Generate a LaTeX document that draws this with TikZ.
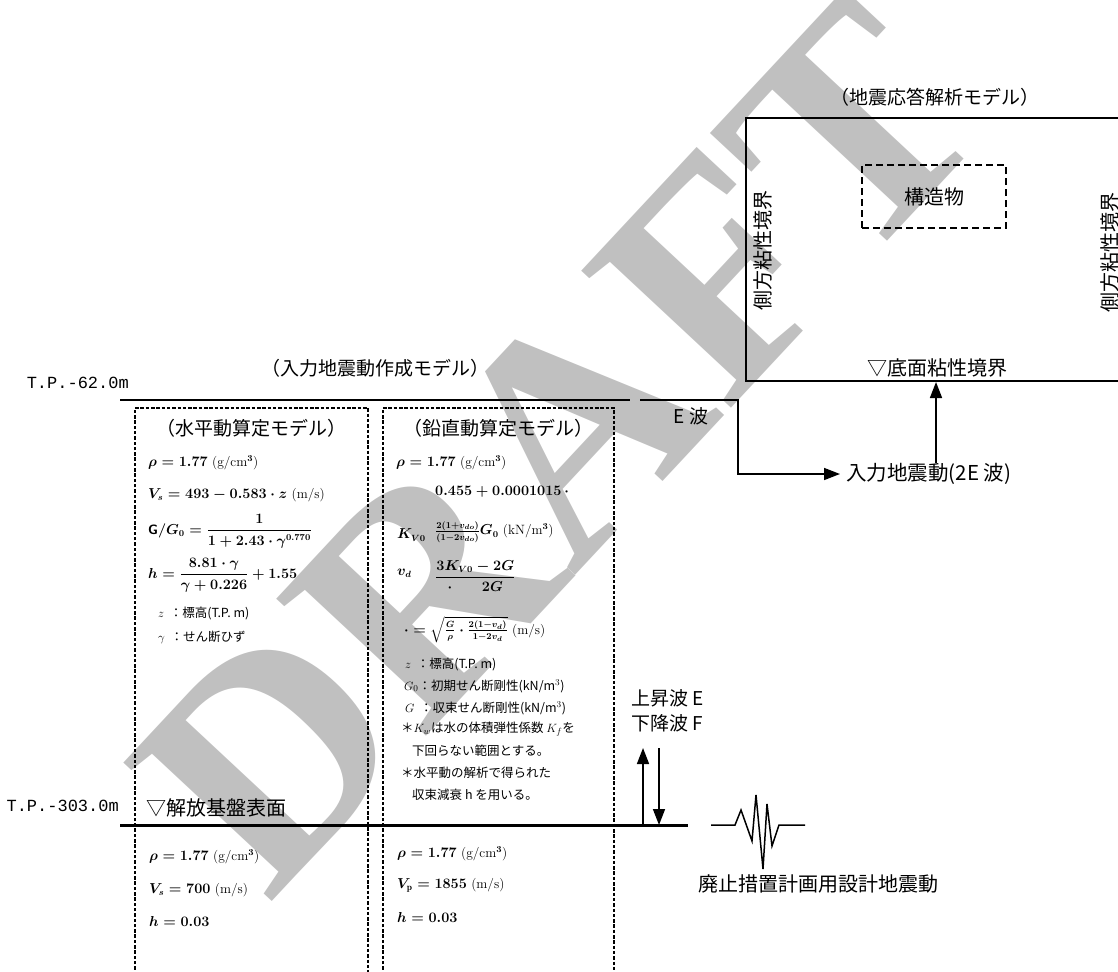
\documentclass[tikz,border=0pt]{standalone}
\usepackage{amsmath,bm}
\usepackage{fontspec}
\newfontfamily\jp{Noto Sans CJK JP}
\newfontfamily\wmfont{Liberation Serif}
\newfontfamily\tpfont{Liberation Mono}
\usetikzlibrary{arrows.meta}
\definecolor{wmgray}{RGB}{192,192,192}
\tikzset{
  jt/.style={font=\jp\fontsize{19}{22}\selectfont, inner sep=0pt},
  jbig/.style={font=\jp\fontsize{20}{24}\selectfont, inner sep=0pt},
  tp/.style={font=\tpfont\fontsize{17}{20}\selectfont, inner sep=0pt, anchor=east},
  jsmall/.style={font=\jp\fontsize{12.5}{14}\selectfont, inner sep=0pt, anchor=west},
  fm/.style={font=\fontsize{13.5}{16}\selectfont\boldmath, inner sep=0pt, anchor=west},
  thickline/.style={line width=2.4pt},
  dbox/.style={line width=1.2pt, dash pattern=on 3.5pt off 1.8pt},
  arr/.style={-{Triangle[length=16pt,width=12pt]}, line width=1.6pt},
  wave/.style={line width=1.5pt, line join=miter},
}
\begin{document}
\begin{tikzpicture}[x=1pt,y=-1pt]
\useasboundingbox (0,0) rectangle (1118,971);
% watermark
\node[rotate=47, text=wmgray, font=\wmfont\bfseries\fontsize{310}{310}\selectfont, inner sep=0pt] (wm) at (558,445) {DRAFT};

% response analysis model
\node[draw, line width=2pt, minimum width=380pt, minimum height=263pt, inner sep=0pt] (resp) at (936,249.5) {};
\node[jt] (resptitle) at (935,97) {（地震応答解析モデル）};
\node[draw, line width=1.8pt, dash pattern=on 7pt off 4pt, minimum width=144pt, minimum height=63pt, inner sep=0pt] (struct) at (934,196.5) {};
\node[jbig] (structlbl) at (struct.center) {構造物};
\node[jbig, rotate=90] (sideL) at (763,250) {側方粘性境界};
\node[jbig, rotate=90] (sideR) at (1110,252) {側方粘性境界};
\node[jbig] (bottomb) at (937,368) {▽底面粘性境界};

% input motion model
\node[jt] (inmodel) at (375,368) {（入力地震動作成モデル）};
\node[tp] (tp62) at (129,383) {T.P.-62.0m};
\coordinate (l62a) at (120,400);
\coordinate (l62b) at (630,400);
\draw[thickline] (l62a) -- (l62b);
\coordinate (ewA) at (640,400);
\node[jt] (ewave) at (691,416) {E 波};
\node[font=\jp\fontsize{20.5}{24}\selectfont, anchor=west, inner sep=0pt] (in2e) at (846,474) {入力地震動(2E 波)};
\coordinate (in2eTip) at (840,474);
\draw[arr] (ewA) -- (738,400) |- (in2eTip);
\draw[arr] (resp.south |- in2e.north) -- (resp.south);

% columns
\coordinate (c1tl) at (135,408);
\coordinate (c1tr) at (368,408);
\coordinate (c2tl) at (383,408);
\coordinate (c2tr) at (614,408);
\draw[dbox] (135,975) -- (c1tl) -- (c1tr) -- (368,975);
\draw[dbox] (383,975) -- (c2tl) -- (c2tr) -- (614,975);

\node[jt] (hmodel) at (251,428) {（水平動算定モデル）};
\node[jt] (vmodel) at (498,428) {（鉛直動算定モデル）};

% horizontal model formulas
\node[fm] (h1) at (148,463) {$\rho = 1.77$\ \mdseries(g/cm$^{3}$)};
\node[fm] (h2) at (148,495) {$V_s = 493 - 0.583\cdot z$\ \mdseries(m/s)};
\node[fm] (h3) at (148,531) {{\sffamily\bfseries G}$/G_0 = \dfrac{1}{1+2.43\cdot\gamma^{0.770}}$};
\node[fm] (h4) at (148,575) {$h = \dfrac{8.81\cdot\gamma}{\gamma+0.226} + 1.55$};
\node[jsmall] (h5) at (158,613) {$z$\ \ ：標高(T.P.\ m)};
\node[jsmall] (h6) at (158,637) {$\gamma$\ \ ：せん断ひず};

% vertical model formulas
\node[fm] (v1) at (396,463) {$\rho = 1.77$\ \mdseries(g/cm$^{3}$)};
\node[fm] (v2) at (435,492) {$0.455 + 0.0001015\,\cdot$};
\node[fm] (v3) at (397,535) {$K_{V0}$};
\node[fm] (v4) at (435,532) {$\tfrac{2(1+v_{do})}{(1-2v_{do})}G_0$\ \mdseries(kN/m$^{3}$)};
\node[fm] (v5) at (397,573) {$v_d$};
\node[fm] (v6) at (435,576) {$\dfrac{3K_{V0}-2G}{\cdot\hspace{2.2em}2G}$};
\node[fm] (v7) at (404,630) {$\cdot = \sqrt{\tfrac{G}{\rho}\cdot\tfrac{2(1-v_d)}{1-2v_d}}$\ \mdseries(m/s)};
\node[jsmall] (v8) at (405,664) {$z$\ \ ：標高(T.P.\ m)};
\node[jsmall] (v9) at (404,686) {$G_0$：初期せん断剛性(kN/m$^{3}$)};
\node[jsmall] (v10) at (405,708) {$G$\ \ ：収束せん断剛性(kN/m$^{3}$)};
\node[jsmall] (v11) at (401,729) {＊$K_w$は水の体積弾性係数 $K_f$を};
\node[jsmall] (v12) at (412,751) {下回らない範囲とする。};
\node[jsmall] (v13) at (401,773) {＊水平動の解析で得られた};
\node[jsmall] (v14) at (412,795) {収束減衰 h を用いる。};

% base line
\node[tp] (tp303) at (119,806) {T.P.-303.0m};
\node[jbig, anchor=west] (kaiho) at (146,808) {▽解放基盤表面};
\coordinate (l303a) at (120,825);
\coordinate (l303b) at (688,825);
\draw[line width=3pt] (l303a) -- (l303b);

% up/down waves
\node[jt, anchor=west] (upw) at (631,698) {上昇波 E};
\node[jt, anchor=west] (dnw) at (631,723) {下降波 F};
\coordinate (upA) at (643,825);
\coordinate (upB) at (643,748);
\coordinate (dnA) at (659,748);
\coordinate (dnB) at (659,825);
\draw[arr] (upA) -- (upB);
\draw[arr] (dnA) -- (dnB);

% wavelet
\draw[wave] (711,825) -- (735,825) -- (741,810) -- (752,841) -- (756,795) -- (763,869) -- (767,804) -- (772,846) -- (779,825) -- (805,825);
\node[jbig] (design) at (818,884) {廃止措置計画用設計地震動};

% lower layer properties
\node[fm] (b1) at (149,857) {$\rho = 1.77$\ \mdseries(g/cm$^{3}$)};
\node[fm] (b2) at (149,890) {$V_s = 700$\ \mdseries(m/s)};
\node[fm] (b3) at (149,921) {$h = 0.03$};
\node[fm] (b4) at (397,854) {$\rho = 1.77$\ \mdseries(g/cm$^{3}$)};
\node[fm] (b5) at (397,885) {$V_{\mathrm{p}} = 1855$\ \mdseries(m/s)};
\node[fm] (b6) at (397,917) {$h = 0.03$};
\end{tikzpicture}
\end{document}
